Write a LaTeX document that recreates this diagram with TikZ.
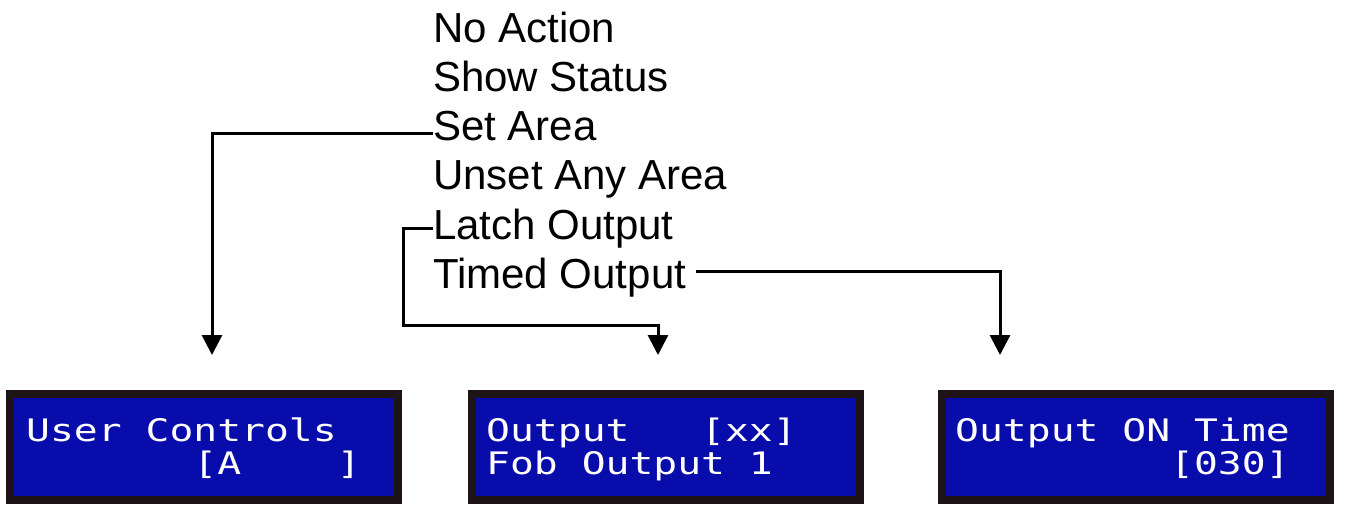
\documentclass[tikz,border=0pt]{standalone}
\usepackage{fontspec}
\setmainfont{Liberation Sans}
\newfontfamily\lcdfont[FakeStretch=1.28]{DejaVu Sans Mono}
\usetikzlibrary{arrows.meta}
\definecolor{lcdblue}{RGB}{8,12,170}
\definecolor{lcdframe}{RGB}{30,20,24}

\begin{document}
\begin{tikzpicture}[x=1pt, y=-1pt, >={Triangle[width=20pt,length=20pt]},
    item/.style={anchor=base west, inner sep=0pt, text height=30pt, text depth=9pt,
        font=\fontsize{42}{49}\selectfont},
    lcd/.style={fill=lcdblue, draw=lcdframe, line width=8pt,
        minimum width=388pt, minimum height=106pt, inner sep=0pt},
    lcdrow/.style={anchor=base west, inner sep=0pt, text=white,
        font=\lcdfont\fontsize{31}{32}\selectfont},
    link/.style={->, line width=3pt}]
    \useasboundingbox (0,0) rectangle (1351,504);

    % 1. Menu entries
    \node[item] (noact) at (433,42) {No Action};
    \node[item] (status) at (433,91) {Show Status};
    \node[item] (set) at (433,140) {Set Area};
    \node[item] (unset) at (433,189) {Unset Any Area};
    \node[item] (latch) at (433,239) {Latch Output};
    \node[item] (timed) at (433,288) {Timed Output};

    % 2. LCD screens, two rows each
    \node[lcd] (lcd1) at (204,447) {};
    \node[lcd] (lcd2) at (665.5,447) {};
    \node[lcd] (lcd3) at (1135.5,447) {};

    \node[lcdrow] (scr1a) at (26,441) {User Controls};
    \node[lcdrow] (scr1b) at (26,474) {~~~~~~~[A~~~~]};
    \node[lcdrow] (scr2a) at (486,441) {Output~~~[xx]};
    \node[lcdrow] (scr2b) at (486,474) {Fob Output 1};
    \node[lcdrow] (scr3a) at (955,441) {Output ON Time};
    \node[lcdrow] (scr3b) at (955,474) {~~~~~~~~~[030]};

    % 3. Connectors
    \coordinate (in1) at (212,355);
    \coordinate (bend) at (403,325);
    \coordinate (in2) at (658,355);
    \coordinate (in3) at (1000,355);

    \draw[link] ([yshift=-3.5pt]set.west) -| (in1);
    \draw[link] (latch.west) -| (bend) -| (in2);
    \draw[link] ([xshift=10pt,yshift=6.5pt]timed.east) -| (in3);
\end{tikzpicture}
\end{document}
